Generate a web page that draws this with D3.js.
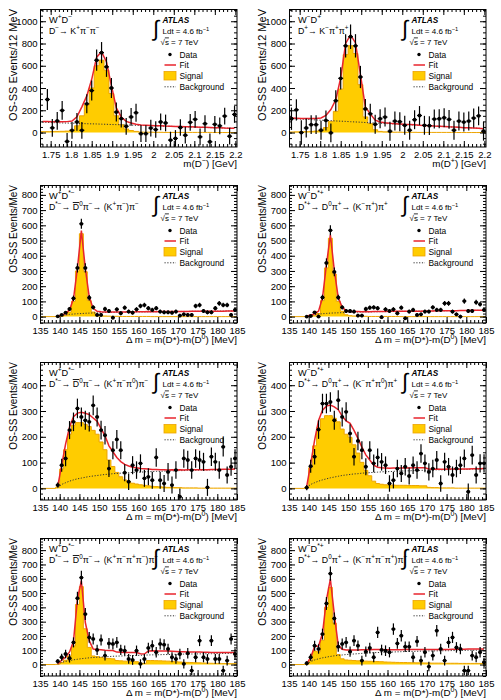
<!DOCTYPE html>
<html>
<head>
<meta charset="utf-8">
<script src="https://cdn.jsdelivr.net/npm/d3@7"></script>
<style>
  body { margin: 0; background: #fff; }
  text { font-family: "Liberation Sans", Arial, Helvetica, sans-serif; white-space: pre; }
</style>
</head>
<body>
<div id="chart"></div>
<script>
// ---- binning (12 MeV bins for the D mass, 1 MeV bins for delta m) ----
var massLo = 1.724, massW = 0.012
var dmLo = 139, dmW = 1

// ---- tick labels ----
var massTicks = [1.75, 1.8, 1.85, 1.9, 1.95, 2, 2.05, 2.1, 2.15, 2.2]
var dmTicks = [135, 140, 145, 150, 155, 160, 165, 170, 175, 180, 185]
var yTicksMass = [0, 200, 400, 600, 800, 1000]
var yTicks800 = [0, 100, 200, 300, 400, 500, 600, 700, 800]
var yTicks400 = [0, 100, 200, 300, 400]

// ---- W+D- , D- -> K+ pi- pi- ----
var p1Data = [null, 297, 42, 104, 199, -80, 20, 95, 20, 258, 377, 650, 718, 590, 400, 184, 125, 56, 140, 178, -10, -10, 40, 27, 95, 86, -68, -53, 45, -24, 92, 119, -39, 80, -83, 74, 60, 148, -33, 163]
var p1Err = [null, 95, 80, 80, 85, 75, 75, 80, 75, 85, 90, 95, 95, 90, 90, 85, 80, 75, 80, 80, 75, 75, 75, 75, 75, 75, 75, 75, 75, 75, 75, 75, 75, 75, 75, 75, 75, 75, 75, 75]
var p1Fit = [100, 99, 98, 98, 97, 98, 104, 142, 231, 329, 478, 677, 725, 634, 422, 221, 140, 100, 85, 75, 68, 66, 64, 62, 60, 58, 57, 55, 54, 52, 51, 50, 48, 47, 45, 43, 42, 40, 39, 38]
var p1Sig = [8, 8, 9, 10, 11, 13, 20, 60, 150, 250, 400, 600, 650, 560, 350, 150, 70, 32, 18, 10, 4, 3, 3, 2, 2, 1, 1, 1, 1, 1, 1, 1, 1, 1, 1, 0, 0, 0, 0, 0]
var p1Bkg = [92, 91, 89, 88, 86, 85, 84, 82, 81, 79, 78, 77, 75, 74, 72, 71, 70, 68, 67, 65, 64, 63, 61, 60, 58, 57, 56, 54, 53, 51, 50, 49, 47, 46, 44, 43, 42, 40, 39, 38]

// ---- W-D+ , D+ -> K- pi+ pi+ ----
var p2Data = [124, 204, 0, 41, 71, 71, 21, 109, -3, 286, 487, 779, 861, 779, 499, 212, 168, 74, 124, 139, 12, 103, 97, 65, 21, 115, 153, 65, 62, 121, 124, 133, 118, 21, 103, 94, 103, 130, 150, 12]
var p2Err = [100, 95, 110, 85, 85, 85, 85, 90, 85, 95, 100, 105, 110, 105, 100, 90, 90, 85, 85, 85, 85, 85, 85, 85, 85, 85, 85, 85, 85, 85, 85, 85, 85, 85, 85, 85, 85, 85, 85, 85]
var p2Fit = [130, 129, 127, 126, 126, 126, 131, 154, 207, 294, 492, 800, 877, 805, 523, 230, 168, 111, 94, 87, 83, 80, 77, 74, 72, 69, 66, 64, 62, 59, 57, 55, 52, 50, 47, 44, 42, 40, 38, 35]
var p2Sig = [5, 6, 7, 8, 10, 13, 20, 45, 100, 190, 390, 700, 780, 710, 430, 140, 80, 25, 10, 6, 4, 3, 3, 2, 2, 2, 1, 1, 1, 1, 1, 1, 1, 1, 0, 0, 0, 0, 0, 0]
var p2Bkg = [125, 123, 120, 118, 116, 113, 111, 109, 107, 104, 102, 100, 97, 95, 93, 90, 88, 86, 84, 81, 79, 77, 74, 72, 70, 67, 65, 63, 61, 58, 56, 54, 51, 49, 47, 44, 42, 40, 38, 35]

// ---- W+D*- , (K+ pi-) pi- ----
var p3Data = [2, 11, 26, 50, 120, 320, 610, 320, 124, 61, 11, 11, 50, 37, -7, 48, 22, 59, 33, 26, 48, 70, 76, 55, 44, 55, 33, 28, 28, 26, 33, 7, 15, 11, 11, 70, 76, 37, 28, 28, 55, 87, 76, 76, 11, 44]
var p3Err = [5, 6, 8, 12, 18, 30, 33, 30, 18, 14, 12, 12, 14, 13, 12, 14, 13, 14, 13, 13, 14, 15, 15, 14, 14, 14, 13, 13, 13, 13, 13, 12, 12, 12, 12, 15, 15, 13, 13, 13, 14, 16, 15, 15, 12, 14]
var p3Fit = [2, 10, 20, 45, 117, 319, 565, 317, 128, 54, 35, 32, 31, 30, 30, 30, 30, 30, 31, 31, 32, 32, 32, 33, 32, 32, 33, 33, 33, 33, 34, 34, 34, 34, 35, 35, 35, 35, 35, 36, 36, 36, 36, 37, 37, 37]
var p3Sig = [0, 2, 8, 30, 100, 300, 545, 295, 105, 30, 10, 6, 4, 3, 2, 2, 1, 1, 1, 1, 1, 1, 1, 1, 0, 0, 0, 0, 0, 0, 0, 0, 0, 0, 0, 0, 0, 0, 0, 0, 0, 0, 0, 0, 0, 0]
var p3Bkg = [2, 8, 12, 15, 17, 19, 20, 22, 23, 24, 25, 26, 27, 27, 28, 28, 29, 29, 30, 30, 31, 31, 31, 32, 32, 32, 33, 33, 33, 33, 34, 34, 34, 34, 35, 35, 35, 35, 35, 36, 36, 36, 36, 37, 37, 37]

// ---- W-D*+ , (K- pi+) pi+ ----
var p4Data = [0, 4, 28, 0, 126, 353, 567, 294, 126, 61, 37, 37, 33, 7, 7, 50, 59, 61, 55, -4, 48, 37, 48, 22, 59, -11, 33, 44, 11, 15, 33, 33, 61, 44, 44, 87, 87, 33, 15, 0, 102, 37, 37, 94, 81, 44]
var p4Err = [5, 6, 8, 8, 18, 30, 33, 28, 18, 14, 13, 13, 13, 12, 12, 14, 14, 14, 14, 12, 14, 13, 14, 13, 14, 12, 13, 14, 12, 12, 13, 13, 14, 14, 14, 16, 16, 13, 12, 12, 17, 13, 13, 16, 15, 14]
var p4Fit = [2, 10, 19, 36, 124, 341, 538, 304, 125, 61, 39, 34, 33, 33, 32, 33, 32, 33, 33, 34, 34, 35, 35, 35, 35, 35, 35, 36, 36, 36, 37, 37, 37, 38, 38, 38, 39, 39, 39, 40, 40, 40, 41, 41, 41, 42]
var p4Sig = [0, 2, 6, 20, 105, 320, 515, 280, 100, 35, 12, 6, 4, 3, 2, 2, 1, 1, 1, 1, 1, 1, 1, 1, 0, 0, 0, 0, 0, 0, 0, 0, 0, 0, 0, 0, 0, 0, 0, 0, 0, 0, 0, 0, 0, 0]
var p4Bkg = [2, 8, 13, 16, 19, 21, 23, 24, 25, 26, 27, 28, 29, 30, 30, 31, 31, 32, 32, 33, 33, 34, 34, 34, 35, 35, 35, 36, 36, 36, 37, 37, 37, 38, 38, 38, 39, 39, 39, 40, 40, 40, 41, 41, 41, 42]

// ---- W+D*- , (K+ pi- pi0) pi- ----
var p5Data = [13, 90, 116, 226, 258, 310, 277, 264, 258, 322, 277, 226, 206, 77, 148, 190, 148, 61, 26, 90, 71, 97, 39, 45, 32, 120, 32, 19, 64, 13, 71, -32, 116, 110, 71, 116, 110, 103, 4, 123, 103, 71, 161, 52, 84, 116]
var p5Err = [10, 25, 30, 35, 36, 38, 37, 37, 37, 38, 37, 36, 36, 33, 35, 36, 35, 33, 32, 35, 34, 35, 33, 33, 33, 36, 33, 33, 34, 33, 34, 32, 36, 36, 34, 36, 36, 35, 33, 36, 35, 34, 37, 33, 35, 36]
var p5Fit = [8, 90, 172, 238, 278, 292, 295, 291, 286, 273, 260, 232, 204, 165, 142, 120, 104, 93, 87, 82, 80, 77, 76, 75, 73, 73, 72, 72, 71, 72, 71, 72, 71, 72, 72, 72, 72, 72, 72, 73, 73, 73, 74, 74, 74, 75]
var p5Sig = [5, 75, 150, 210, 245, 255, 255, 248, 240, 225, 210, 180, 150, 110, 85, 62, 45, 33, 26, 20, 17, 14, 12, 10, 8, 7, 6, 5, 4, 4, 3, 3, 2, 2, 2, 2, 1, 1, 1, 1, 1, 1, 1, 1, 1, 1]
var p5Bkg = [3, 15, 22, 28, 33, 37, 40, 43, 46, 48, 50, 52, 54, 55, 57, 58, 59, 60, 61, 62, 63, 63, 64, 65, 65, 66, 66, 67, 67, 68, 68, 69, 69, 70, 70, 70, 71, 71, 71, 72, 72, 72, 73, 73, 73, 74]

// ---- W-D*+ , (K- pi+ pi0) pi+ ----
var p6Data = [3, 86, 123, 228, 329, 329, 335, 264, 342, 277, 297, 213, 123, 184, 148, 84, 148, 97, 120, 103, 90, 19, 32, 77, 58, 84, 48, 90, 71, 135, 97, 64, 77, 110, 19, 103, 84, 52, 77, 90, 116, -13, 129, 52, 97, 97]
var p6Err = [10, 25, 30, 36, 38, 38, 38, 37, 38, 37, 37, 36, 34, 36, 35, 33, 35, 34, 35, 34, 34, 32, 32, 34, 33, 34, 33, 34, 34, 36, 34, 33, 34, 35, 32, 35, 34, 33, 34, 34, 35, 32, 36, 33, 35, 35]
var p6Fit = [8, 95, 187, 263, 303, 319, 323, 316, 305, 280, 262, 252, 225, 194, 160, 130, 110, 90, 82, 80, 79, 78, 79, 79, 79, 80, 79, 80, 80, 80, 80, 75, 74, 75, 74, 74, 75, 75, 74, 75, 75, 75, 76, 76, 76, 77]
var p6Sig = [5, 80, 165, 235, 270, 282, 282, 272, 258, 230, 210, 198, 169, 137, 101, 70, 49, 28, 19, 16, 14, 13, 13, 12, 12, 12, 11, 11, 11, 10, 10, 4, 3, 3, 2, 2, 2, 2, 1, 1, 1, 1, 1, 1, 1, 1]
var p6Bkg = [3, 15, 22, 28, 33, 37, 41, 44, 47, 50, 52, 54, 56, 57, 59, 60, 61, 62, 63, 64, 65, 65, 66, 67, 67, 68, 68, 69, 69, 70, 70, 71, 71, 72, 72, 72, 73, 73, 73, 74, 74, 74, 75, 75, 75, 76]

// ---- W+D*- , (K+ pi- pi+ pi-) pi- ----
var p7Data = [23, 51, 74, 44, 155, 464, 608, 353, 190, 179, 102, 172, 63, 148, 144, 155, 102, 97, 39, 32, 97, 5, 39, 116, 132, 86, 144, 139, 109, 51, 39, 74, 5, 79, -42, 51, 167, 51, 39, 167, 39, 39, -42, 28, 179, 74]
var p7Err = [15, 25, 30, 30, 35, 45, 48, 42, 38, 38, 36, 38, 34, 38, 38, 38, 36, 36, 34, 34, 36, 32, 34, 37, 38, 36, 38, 38, 37, 35, 34, 36, 33, 36, 33, 35, 38, 35, 34, 38, 34, 34, 33, 34, 38, 36]
var p7Fit = [5, 30, 52, 88, 163, 457, 586, 294, 167, 109, 106, 103, 100, 99, 98, 87, 86, 85, 85, 85, 84, 75, 74, 95, 96, 95, 95, 95, 94, 93, 92, 90, 89, 88, 88, 87, 87, 86, 86, 85, 85, 85, 85, 85, 85, 85]
var p7Sig = [2, 15, 30, 60, 130, 420, 545, 250, 120, 60, 55, 50, 45, 43, 40, 28, 26, 24, 23, 22, 20, 10, 8, 28, 28, 27, 26, 25, 24, 22, 20, 18, 16, 15, 14, 13, 12, 11, 10, 9, 8, 8, 7, 7, 6, 6]
var p7Bkg = [3, 15, 22, 28, 33, 37, 41, 44, 47, 49, 51, 53, 55, 56, 58, 59, 60, 61, 62, 63, 64, 65, 66, 67, 68, 68, 69, 70, 70, 71, 72, 72, 73, 73, 74, 74, 75, 75, 76, 76, 77, 77, 78, 78, 79, 79]

// ---- W-D*+ , (K- pi+ pi- pi+) pi+ ----
var p8Data = [9, 51, 132, 109, 213, 427, 636, 322, 125, 144, 155, 90, 167, 132, 28, 90, 116, 51, 225, 102, 97, 86, 248, 148, 202, 125, 125, 51, 162, 28, 86, -14, 63, 237, 109, 28, 155, 190, 120, 109, -42, -42, 63, 51, 86, 16]
var p8Err = [15, 25, 35, 33, 38, 45, 50, 42, 36, 38, 38, 36, 38, 37, 34, 36, 37, 35, 40, 37, 37, 36, 40, 38, 40, 37, 37, 35, 38, 34, 36, 33, 35, 40, 37, 34, 38, 39, 37, 37, 33, 33, 35, 35, 36, 33]
var p8Fit = [5, 50, 127, 130, 217, 452, 597, 351, 134, 107, 102, 102, 102, 102, 103, 104, 104, 105, 105, 105, 104, 104, 104, 104, 104, 105, 105, 105, 105, 106, 105, 106, 105, 106, 106, 106, 106, 107, 107, 107, 107, 108, 108, 108, 109, 109]
var p8Sig = [2, 30, 95, 90, 170, 400, 540, 290, 70, 40, 32, 30, 28, 26, 25, 24, 23, 22, 21, 20, 18, 17, 16, 15, 14, 14, 13, 13, 12, 12, 11, 11, 10, 10, 10, 9, 9, 9, 9, 8, 8, 8, 8, 8, 8, 8]
var p8Bkg = [3, 20, 32, 40, 47, 52, 57, 61, 64, 67, 70, 72, 74, 76, 78, 80, 81, 83, 84, 85, 86, 87, 88, 89, 90, 91, 92, 92, 93, 94, 94, 95, 95, 96, 96, 97, 97, 98, 98, 99, 99, 100, 100, 100, 101, 101]

// ---- layout ----
var colX = [40, 289]
var frameW = 197, frameH = 138
var rows = [
    {top: 9,   y: [-130, 1110], ticks: yTicksMass, minor: 50, ytitle: "OS-SS Events/12 MeV", ysize: 11},
    {top: 185, y: [-42, 865],   ticks: yTicks800,  minor: 20, ytitle: "OS-SS Events/MeV", ysize: 10},
    {top: 362, y: [-45, 490],   ticks: yTicks400,  minor: 20, ytitle: "OS-SS Events/MeV", ysize: 10},
    {top: 538, y: [-80, 885],   ticks: yTicks800,  minor: 20, ytitle: "OS-SS Events/MeV", ysize: 10}
]
var dmTitle = "\u0394 m = m(D*)-m(D^{0}) [MeV]"

var panels = [
    {row: 0, col: 0, mass: true, data: p1Data, err: p1Err, fit: p1Fit, sig: p1Sig, bkg: p1Bkg,
     l1: "W^{+}D^{-}", l2: "D^{-}\u2192 K^{+}\u03c0^{-}\u03c0^{-}", xtitle: "m(D^{-}) [GeV]"},
    {row: 0, col: 1, mass: true, data: p2Data, err: p2Err, fit: p2Fit, sig: p2Sig, bkg: p2Bkg,
     l1: "W^{-}D^{+}", l2: "D^{+}\u2192 K^{-}\u03c0^{+}\u03c0^{+}", xtitle: "m(D^{+}) [GeV]"},
    {row: 1, col: 0, mass: false, data: p3Data, err: p3Err, fit: p3Fit, sig: p3Sig, bkg: p3Bkg,
     l1: "W^{+}D^{*-}", l2: "D^{*-}\u2192 ~{D}^{0}\u03c0^{-}\u2192 (K^{+}\u03c0^{-})\u03c0^{-}", xtitle: dmTitle},
    {row: 1, col: 1, mass: false, data: p4Data, err: p4Err, fit: p4Fit, sig: p4Sig, bkg: p4Bkg,
     l1: "W^{-}D^{*+}", l2: "D^{*+}\u2192 D^{0}\u03c0^{+}\u2192 (K^{-}\u03c0^{+})\u03c0^{+}", xtitle: dmTitle},
    {row: 2, col: 0, mass: false, data: p5Data, err: p5Err, fit: p5Fit, sig: p5Sig, bkg: p5Bkg,
     l1: "W^{+}D^{*-}", l2: "D^{*-}\u2192 ~{D}^{0}\u03c0^{-}\u2192 (K^{+}\u03c0^{-}\u03c0^{0})\u03c0^{-}", xtitle: dmTitle},
    {row: 2, col: 1, mass: false, data: p6Data, err: p6Err, fit: p6Fit, sig: p6Sig, bkg: p6Bkg,
     l1: "W^{-}D^{*+}", l2: "D^{*+}\u2192 D^{0}\u03c0^{+}\u2192 (K^{-}\u03c0^{+}\u03c0^{0})\u03c0^{+}", xtitle: dmTitle},
    {row: 3, col: 0, mass: false, data: p7Data, err: p7Err, fit: p7Fit, sig: p7Sig, bkg: p7Bkg,
     l1: "W^{+}D^{*-}", l2: "D^{*-}\u2192 ~{D}^{0}\u03c0^{-}\u2192 (K^{+}\u03c0^{-}\u03c0^{+}\u03c0^{-})\u03c0^{-}", xtitle: dmTitle},
    {row: 3, col: 1, mass: false, data: p8Data, err: p8Err, fit: p8Fit, sig: p8Sig, bkg: p8Bkg,
     l1: "W^{-}D^{*+}", l2: "D^{*+}\u2192 D^{0}\u03c0^{+}\u2192 (K^{-}\u03c0^{+}\u03c0^{-}\u03c0^{+})\u03c0^{+}", xtitle: dmTitle}
]

var FONT = '"Liberation Sans", Arial, Helvetica, sans-serif'
var sigFill = "#ffcc00", sigLine = "#eda400", fitColor = "#e8242c"

// write ROOT-like latex: ^{..} superscript, ~{..} overline
function rich(t, str, size) {
    var re = /(\^\{[^}]*\}|~\{[^}]*\}|[^^~]+)/g, m, up = false
    while ((m = re.exec(str))) {
        var tok = m[0]
        if (tok[0] === "^") {
            t.append("tspan").attr("font-size", size * 0.72).attr("dy", -size * 0.42)
                .text(tok.slice(2, -1).replace(/-/g, "\u2212"))
            up = true
        } else {
            var ts = t.append("tspan").attr("font-size", size)
            if (up) { ts.attr("dy", size * 0.42); up = false }
            if (tok[0] === "~") ts.style("text-decoration", "overline").text(tok.slice(2, -1))
            else ts.text(tok)
        }
    }
    return t
}

var svg = d3.select("#chart").append("svg")
    .attr("width", 501).attr("height", 700)

panels.forEach(function(p, k) {
    var row = rows[p.row]
    var fx = colX[p.col], fy = row.top
    var lo = p.mass ? massLo : dmLo, bw = p.mass ? massW : dmW
    var xdom = p.mass ? [massLo, massLo + 40 * massW] : [135, 185]

    var x = d3.scaleLinear().domain(xdom).range([0, frameW])
    var y = d3.scaleLinear().domain(row.y).range([frameH, 0])

    var bins = p.data.map(function(v, i) {
        return {lo: lo + i * bw, hi: lo + (i + 1) * bw, c: lo + (i + 0.5) * bw,
                v: v, e: p.err[i], fit: p.fit[i], sig: p.sig[i], bkg: p.bkg[i]}
    })

    var g = svg.append("g").attr("transform", "translate(" + fx + "," + fy + ")")

    svg.append("clipPath").attr("id", "clip" + k)
        .append("rect").attr("width", frameW).attr("height", frameH)
    var plot = g.append("g").attr("clip-path", "url(#clip" + k + ")")

    // signal histogram
    var steps = []
    bins.forEach(function(b) { steps.push([b.lo, b.sig]); steps.push([b.hi, b.sig]) })
    plot.append("path")
        .datum(steps)
        .attr("fill", sigFill)
        .attr("d", d3.area().x(function(d) { return x(d[0]) }).y0(y(0)).y1(function(d) { return y(d[1]) }))
    var outline = [[xdom[0], 0], [bins[0].lo, 0]].concat(steps, [[bins[bins.length - 1].hi, 0], [xdom[1], 0]])
    plot.append("path")
        .datum(outline)
        .attr("fill", "none").attr("stroke", sigLine).attr("stroke-width", 1)
        .attr("d", d3.line().x(function(d) { return x(d[0]) }).y(function(d) { return y(d[1]) }))

    // background
    plot.append("path")
        .datum(bins)
        .attr("fill", "none").attr("stroke", "#333").attr("stroke-width", 1)
        .attr("stroke-dasharray", "1.2,1.6")
        .attr("d", d3.line().curve(d3.curveMonotoneX).x(function(d) { return x(d.c) }).y(function(d) { return y(d.bkg) }))

    // fit
    plot.append("path")
        .datum(bins)
        .attr("fill", "none").attr("stroke", fitColor).attr("stroke-width", 1.5)
        .attr("d", d3.line().x(function(d) { return x(d.c) }).y(function(d) { return y(d.fit) }))

    // data
    var pts = plot.selectAll(".pt").data(bins.filter(function(b) { return b.v !== null }))
        .enter().append("g").attr("class", "pt")
    pts.append("line")
        .attr("x1", function(d) { return x(d.c) }).attr("x2", function(d) { return x(d.c) })
        .attr("y1", function(d) { return y(d.v - d.e) }).attr("y2", function(d) { return y(d.v + d.e) })
        .attr("stroke", "#000").attr("stroke-width", 1.2)
    pts.append("line")
        .attr("x1", function(d) { return x(d.lo) }).attr("x2", function(d) { return x(d.hi) })
        .attr("y1", function(d) { return y(d.v) }).attr("y2", function(d) { return y(d.v) })
        .attr("stroke", "#000").attr("stroke-width", 1.2)
    pts.append("circle")
        .attr("cx", function(d) { return x(d.c) }).attr("cy", function(d) { return y(d.v) })
        .attr("r", 1.9).attr("fill", "#000")

    // axes, ticks inside on all four sides
    var xt = p.mass ? massTicks : dmTicks
    var xstep = p.mass ? 0.01 : 1
    var xminor = d3.range(Math.round(xdom[0] / xstep), Math.round(xdom[1] / xstep) + 1)
        .map(function(i) { return +(i * xstep).toFixed(3) })
        .filter(function(v) { return v >= xdom[0] && v <= xdom[1] })
    var yminor = d3.range(Math.ceil(row.y[0] / row.minor), Math.floor(row.y[1] / row.minor) + 1)
        .map(function(i) { return i * row.minor })

    function ax(axis, tr) {
        var a = g.append("g").attr("transform", tr).call(axis)
        a.select(".domain").remove()
        a.attr("font-family", FONT).attr("font-size", 9.5)
        return a
    }
    ax(d3.axisBottom(x).tickValues(xt).tickSize(-6).tickPadding(4.5).tickFormat(function(d) { return String(d) }),
       "translate(0," + frameH + ")")
    ax(d3.axisBottom(x).tickValues(xminor).tickSize(-3).tickFormat(""), "translate(0," + frameH + ")")
    ax(d3.axisTop(x).tickValues(xt).tickSize(-6).tickFormat(""), "translate(0,0)")
    ax(d3.axisTop(x).tickValues(xminor).tickSize(-3).tickFormat(""), "translate(0,0)")
    ax(d3.axisLeft(y).tickValues(row.ticks).tickSize(-6).tickPadding(2.5).tickFormat(function(d) { return String(d) }),
       "translate(0,0)")
    ax(d3.axisLeft(y).tickValues(yminor).tickSize(-3).tickFormat(""), "translate(0,0)")
    ax(d3.axisRight(y).tickValues(row.ticks).tickSize(-6).tickFormat(""), "translate(" + frameW + ",0)")
    ax(d3.axisRight(y).tickValues(yminor).tickSize(-3).tickFormat(""), "translate(" + frameW + ",0)")

    g.append("rect").attr("x", 0.5).attr("y", 0.5)
        .attr("width", frameW - 0.5).attr("height", frameH - 0.5)
        .attr("fill", "none").attr("stroke", "#000").attr("stroke-width", 1)

    // axis titles
    rich(g.append("text").attr("x", frameW).attr("y", frameH + 20).attr("text-anchor", "end"), p.xtitle, 9.8)
    rich(g.append("text").attr("transform", "translate(-23.5,0) rotate(-90)").attr("text-anchor", "end"), row.ytitle, row.ysize)

    // decay labels
    rich(g.append("text").attr("x", 9).attr("y", 13.5), p.l1, 9.2)
    rich(g.append("text").attr("x", 9).attr("y", 25), p.l2, 8.8)

    // ATLAS block
    g.append("text").attr("x", 116).attr("y", 27).attr("font-family", "Liberation Serif, serif")
        .attr("font-size", 22).attr("text-anchor", "middle").text("\u222b")
    g.append("text").attr("x", 122.5).attr("y", 14).attr("font-size", 8.2)
        .attr("font-weight", "bold").attr("font-style", "italic").text("ATLAS")
    rich(g.append("text").attr("x", 122.5).attr("y", 25), "Ldt = 4.6 fb^{-1}", 8)
    rich(g.append("text").attr("x", 120.5).attr("y", 35.5), "\u221a~{s} = 7 TeV", 8)

    // legend
    var lx = 139.5
    g.append("circle").attr("cx", 130).attr("cy", 45.5).attr("r", 1.7).attr("fill", "#000")
    g.append("text").attr("x", lx).attr("y", 48.7).attr("font-size", 8.4).text("Data")
    g.append("line").attr("x1", 124.5).attr("x2", 136).attr("y1", 56).attr("y2", 56)
        .attr("stroke", fitColor).attr("stroke-width", 1.5)
    g.append("text").attr("x", lx).attr("y", 59.3).attr("font-size", 8.4).text("Fit")
    g.append("rect").attr("x", 124).attr("y", 62.5).attr("width", 12).attr("height", 8.5)
        .attr("fill", sigFill).attr("stroke", sigLine).attr("stroke-width", 0.8)
    g.append("text").attr("x", lx).attr("y", 70.1).attr("font-size", 8.4).text("Signal")
    g.append("line").attr("x1", 124.5).attr("x2", 136).attr("y1", 77.8).attr("y2", 77.8)
        .attr("stroke", "#333").attr("stroke-width", 1).attr("stroke-dasharray", "1.2,1.6")
    g.append("text").attr("x", lx).attr("y", 81).attr("font-size", 8.4).text("Background")
})
</script>
</body>
</html>
